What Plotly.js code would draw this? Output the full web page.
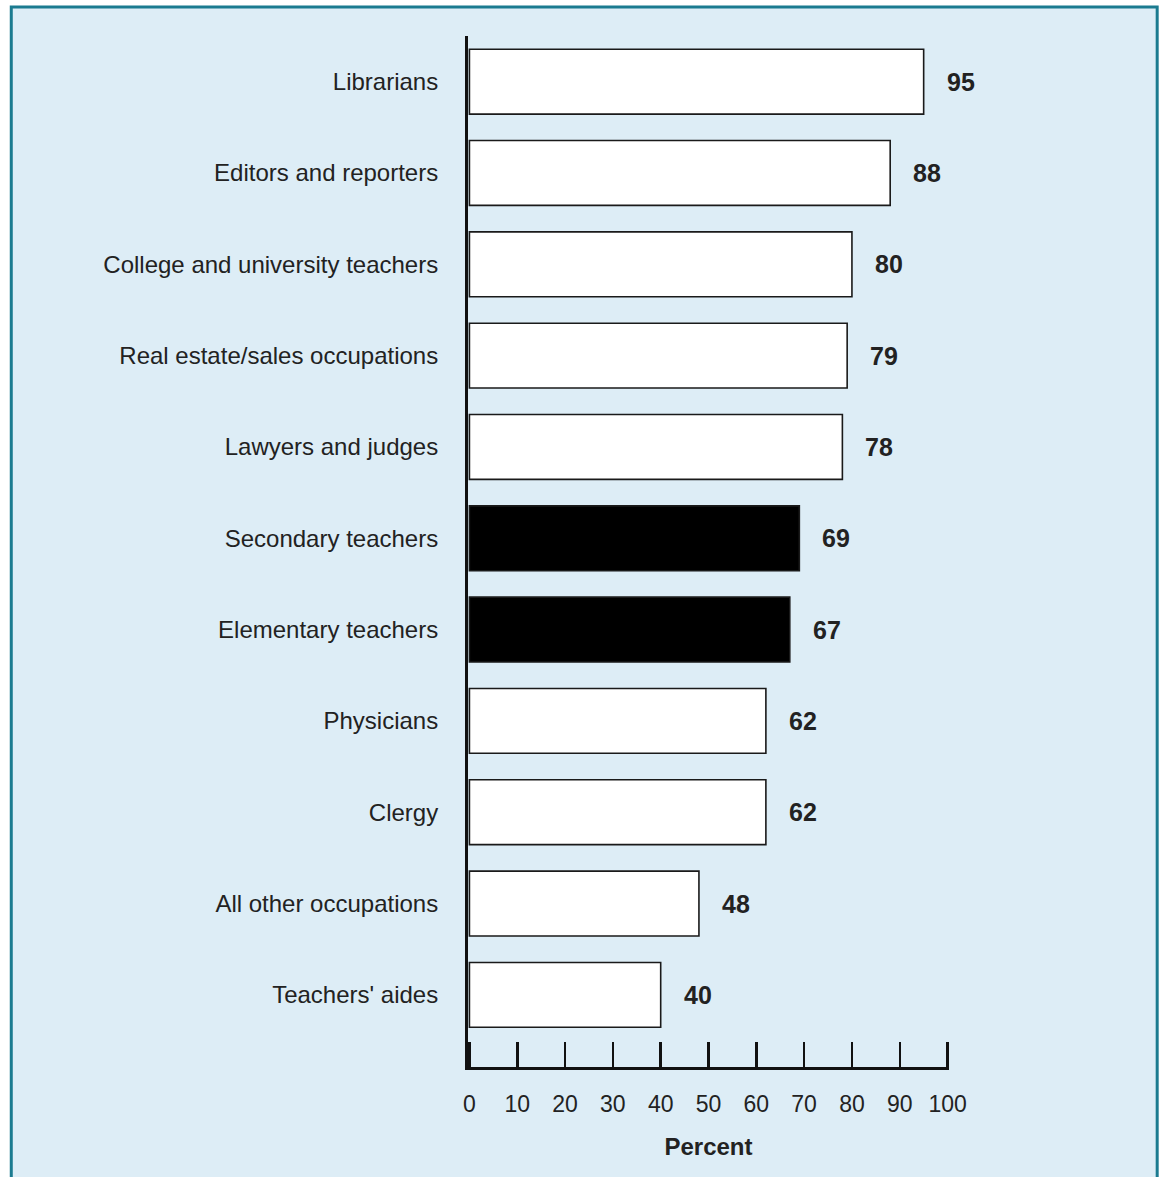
<!DOCTYPE html>
<html>
<head>
<meta charset="utf-8">
<script src="https://cdn.plot.ly/plotly-3.0.1.min.js"></script>
<style>
html,body{margin:0;padding:0;background:#fff;}
#chart{width:1160px;height:1177px;}
</style>
</head>
<body>
<div id="chart"></div>
<script>
const categories = [
  "Librarians",
  "Editors and reporters",
  "College and university teachers",
  "Real estate/sales occupations",
  "Lawyers and judges",
  "Secondary teachers",
  "Elementary teachers",
  "Physicians",
  "Clergy",
  "All other occupations",
  "Teachers' aides"
];
const percents = [95, 88, 80, 79, 78, 69, 67, 62, 62, 48, 40];
const highlighted = [false, false, false, false, false, true, true, false, false, false, false];
const xTickValues = [0, 10, 20, 30, 40, 50, 60, 70, 80, 90, 100];

const FONT = "Liberation Sans, Arial, Helvetica, sans-serif";

const trace = {
  type: "bar",
  orientation: "h",
  y: categories,
  x: percents,
  width: 0.71,
  marker: {
    color: highlighted.map(h => h ? "#000000" : "#ffffff"),
    line: {color: "#1a1a1a", width: 1.6}
  },
  hoverinfo: "x+y",
  cliponaxis: false
};

const annotations = categories.map((c, i) => ({
  x: percents[i],
  y: c,
  xref: "x",
  yref: "y",
  text: String(percents[i]),
  showarrow: false,
  xanchor: "left",
  yanchor: "middle",
  xshift: 21,
  font: {family: FONT, size: 25, color: "#222222", weight: "bold"}
}));

// x range padded slightly so the end ticks at 0 and 100 are drawn
const xPad = 0.3;
const pxPerUnit = 4.79;
const leftPx = 469 - xPad * pxPerUnit;
const rightPx = 948 + xPad * pxPerUnit;
const pxW = rightPx - leftPx, pxH = 1031;
const frame = {
  type: "rect",
  xref: "paper", yref: "paper",
  x0: (10 - leftPx) / pxW, x1: (1158 - leftPx) / pxW,
  y0: (1067 - 1200) / pxH, y1: (1067 - 7) / pxH,
  fillcolor: "#ddedf6",
  line: {color: "#1b7b90", width: 3},
  layer: "below"
};

const layout = {
  width: 1160,
  height: 1177,
  margin: {l: leftPx, r: 1160 - rightPx, t: 36, b: 110, pad: 0},
  paper_bgcolor: "#ffffff",
  plot_bgcolor: "rgba(0,0,0,0)",
  showlegend: false,
  font: {family: FONT, color: "#222222"},
  shapes: [frame],
  annotations: annotations,
  xaxis: {
    range: [-xPad, 100 + xPad],
    tickvals: xTickValues,
    ticktext: xTickValues.map(String),
    ticks: "inside",
    ticklen: 25,
    tickwidth: 2.5,
    tickcolor: "#111111",
    showline: true,
    linecolor: "#111111",
    linewidth: 3,
    showgrid: false,
    zeroline: false,
    ticklabelstandoff: 14,
    tickfont: {family: FONT, size: 23, color: "#222222"},
    title: {
      text: "Percent",
      font: {family: FONT, size: 24, color: "#222222", weight: "bold"},
      standoff: 23
    },
    fixedrange: true
  },
  yaxis: {
    type: "category",
    categoryorder: "array",
    categoryarray: categories,
    range: [10.79, -0.5],
    showline: true,
    linecolor: "#111111",
    linewidth: 3,
    ticks: "",
    showgrid: false,
    zeroline: false,
    ticklabelstandoff: 22,
    tickfont: {family: FONT, size: 24, color: "#222222"},
    fixedrange: true
  }
};

Plotly.newPlot("chart", [trace], layout, {displayModeBar: false, staticPlot: true});
</script>
</body>
</html>
